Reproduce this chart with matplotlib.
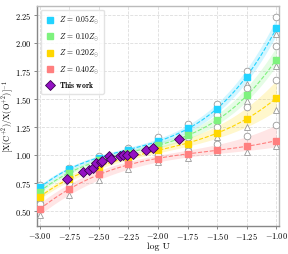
import matplotlib
matplotlib.use('Agg')
import matplotlib.pyplot as plt
import numpy as np

plt.rcParams['font.family'] = 'serif'
plt.rcParams['font.serif'] = ['cmr10']
plt.rcParams['mathtext.fontset'] = 'cm'
plt.rcParams['axes.formatter.use_mathtext'] = True

# model grid
logU = np.array([-3.0, -2.75, -2.5, -2.25, -2.0, -1.75, -1.5, -1.25, -1.0])
labels = [r'$Z\,=\,0.05Z_{\odot}$', r'$Z\,=\,0.10Z_{\odot}$',
          r'$Z\,=\,0.20Z_{\odot}$', r'$Z\,=\,0.40Z_{\odot}$']
colors = ['#22d3ff', '#7ef27e', '#ffd700', '#ff7f7f']

# squares (fiducial models)
mid = [
    [0.714, 0.875, 0.976, 1.051, 1.128, 1.247, 1.410, 1.699, 2.137],
    [0.676, 0.845, 0.955, 1.020, 1.089, 1.179, 1.312, 1.536, 1.854],
    [0.631, 0.790, 0.900, 0.985, 1.045, 1.104, 1.199, 1.328, 1.510],
    [0.520, 0.696, 0.830, 0.920, 0.970, 1.009, 1.050, 1.080, 1.131],
]
# open circles (upper variant)
upper = [
    [0.74, 0.89, 0.99, 1.07, 1.16, 1.28, 1.46, 1.75, 2.23],
    [0.70, 0.86, 0.97, 1.05, 1.12, 1.22, 1.36, 1.60, 1.97],
    [0.66, 0.81, 0.93, 1.02, 1.08, 1.16, 1.25, 1.43, 1.67],
    [0.57, 0.75, 0.86, 0.95, 1.00, 1.04, 1.10, 1.17, 1.27],
]
# open triangles (lower variant)
lower = [
    [0.70, 0.86, 0.96, 1.03, 1.10, 1.22, 1.38, 1.64, 2.08],
    [0.66, 0.83, 0.94, 1.00, 1.06, 1.15, 1.28, 1.48, 1.80],
    [0.61, 0.77, 0.88, 0.96, 1.02, 1.08, 1.16, 1.25, 1.40],
    [0.47, 0.65, 0.78, 0.88, 0.94, 0.98, 1.03, 1.03, 1.08],
]

# this work
obs_logU = [-2.77, -2.635, -2.585, -2.545, -2.52, -2.485, -2.47, -2.415,
            -2.40, -2.32, -2.295, -2.265, -2.215, -2.105, -2.04, -1.825]
obs_ratio = [0.79, 0.855, 0.87, 0.885, 0.93, 0.945, 0.95, 0.99,
             0.965, 0.99, 1.0, 1.005, 1.015, 1.05, 1.07, 1.145]

fig = plt.figure(figsize=(2.88, 2.54), dpi=100)
ax = fig.add_axes([0.1285, 0.110, 0.840, 0.866])

xx = np.linspace(-3.0, -1.0, 200)
for m, up, lo, c, lab in zip(mid, upper, lower, colors, labels):
    fm = np.polyval(np.polyfit(logU, m, 3), xx)
    fu = np.polyval(np.polyfit(logU, up, 3), xx)
    fl = np.polyval(np.polyfit(logU, lo, 3), xx)
    ax.fill_between(xx, fl, fu, color=c, alpha=0.2, lw=0, zorder=1)
    ax.plot(xx, fm, '--', color=c, lw=0.8, zorder=2)
    ax.plot(logU, up, 'o', mfc='white', mec='#999999', mew=0.6, ms=4.8, zorder=3)
    ax.plot(logU, lo, '^', mfc='white', mec='#999999', mew=0.6, ms=4.8, zorder=3)
    ax.plot(logU, m, 's', color=c, ms=4.5, zorder=4, ls='none', label=lab)

ax.plot(obs_logU, obs_ratio, 'D', mfc='#9412c4', mec='#3a0050', mew=0.6,
        ms=5, ls='none', zorder=5, label=r'$\mathbf{This\ work}$')

ax.set_xlim(-3.022, -0.978)
ax.set_ylim(0.37, 2.33)
ax.set_xticks(np.arange(-3.0, -0.99, 0.25))
ax.set_yticks(np.arange(0.5, 2.26, 0.25))
ax.grid(True, ls='--', color='#dddddd', lw=0.6)
ax.set_axisbelow(True)
ax.tick_params(labelsize=6, length=2.5, pad=1.2, color='#888888', width=0.7)
for s in ['left', 'bottom']:
    ax.spines[s].set_color('#888888')
for s in ['top', 'right']:
    ax.spines[s].set_color('#bbbbbb')
for s in ax.spines.values():
    s.set_linewidth(1.0)

ax.set_xlabel('log U', fontsize=7, labelpad=0.5)
ax.set_ylabel(r'$[{\rm X(C^{+2})/X(O^{+2})}]^{-1}$', fontsize=6.0, va='center')
ax.yaxis.set_label_coords(-0.12, 0.5)

ax.legend(loc='upper left', fontsize=5.5, frameon=True, edgecolor='#dddddd',
          handletextpad=0.4, borderpad=0.5, labelspacing=0.6, handlelength=1.5)

fig.savefig('out.png', dpi=100)
